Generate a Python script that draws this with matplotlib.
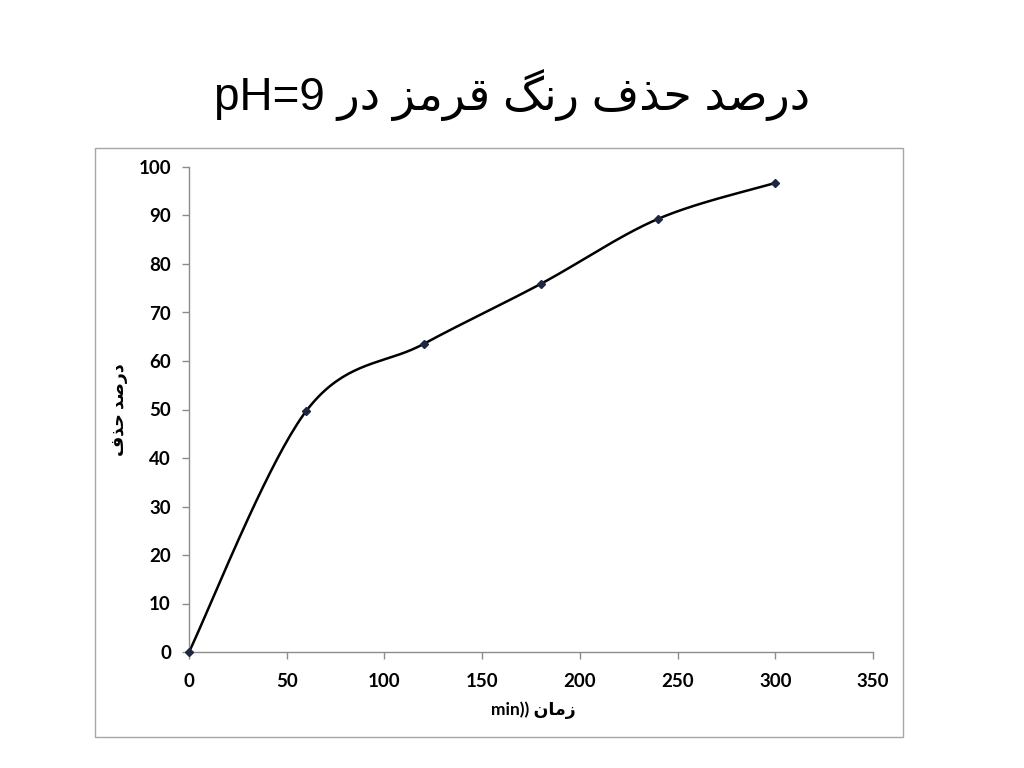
import numpy as np
import matplotlib
matplotlib.use("Agg")
import matplotlib.pyplot as plt
from matplotlib.patches import Rectangle

# Data
time_min = [0, 60, 120, 180, 240, 300]
removal_pct = [0, 49.7, 63.5, 75.9, 89.3, 96.7]
x_ticks = [0, 50, 100, 150, 200, 250, 300, 350]
y_ticks = [0, 10, 20, 30, 40, 50, 60, 70, 80, 90, 100]

# Persian text in shaped presentation forms, visual (left-to-right) order
title_text = "pH=9 \uFEAD\uFEA9 \uFEB0\uFEE3\uFEAE\uFED7 \uFB93\uFEE7\uFEAD \uFED1\uFEAC\uFEA3 \uFEAA\uFEBB\uFEAD\uFEA9"
ylabel_text = "\uFED1\uFEAC\uFEA3 \uFEAA\uFEBB\uFEAD\uFEA9"
xlabel_text = "min)) \uFEE5\uFE8E\uFEE3\uFEAF"


def smooth_curve(xs, ys, n=40):
    # Catmull-Rom style smoothing (like spreadsheet "smoothed line")
    xs = np.asarray(xs, float)
    ys = np.asarray(ys, float)
    P = np.column_stack([xs, ys])
    out = [P[0]]
    t = np.linspace(0, 1, n)[1:]
    for i in range(len(P) - 1):
        p0 = P[i - 1] if i > 0 else P[i]
        p1 = P[i]
        p2 = P[i + 1]
        p3 = P[i + 2] if i + 2 < len(P) else P[i + 1]
        c1 = p1 + (p2 - p0) / 6.0
        c2 = p2 - (p3 - p1) / 6.0
        for tt in t:
            b = ((1 - tt) ** 3) * p1 + 3 * ((1 - tt) ** 2) * tt * c1 + 3 * (1 - tt) * tt ** 2 * c2 + tt ** 3 * p2
            out.append(b)
    out = np.array(out)
    return out[:, 0], out[:, 1]


fig = plt.figure(figsize=(10.24, 7.68), dpi=100)
fig.patch.set_facecolor("white")

# outer chart frame
fig.patches.append(Rectangle((95 / 1024, 1 - 737 / 768), (903 - 95) / 1024, (737 - 148) / 768,
                             transform=fig.transFigure, fill=False, edgecolor="#a6a6a6", linewidth=1.0))

ax = fig.add_axes([189 / 1024, 1 - 652 / 768, (873 - 189) / 1024, (652 - 167) / 768])
sx, sy = smooth_curve(time_min, removal_pct)
ax.plot(sx, sy, color="black", linewidth=1.8, zorder=2, clip_on=False)
ax.plot(time_min, removal_pct, linestyle="none", marker="D", markersize=4.5,
        color="#1c2742", zorder=3, clip_on=False)

ax.set_xlim(0, 350)
ax.set_ylim(0, 100)
ax.set_xticks(x_ticks)
ax.set_yticks(y_ticks)
for s in ["top", "right"]:
    ax.spines[s].set_visible(False)
for s in ["left", "bottom"]:
    ax.spines[s].set_color("#8c8c8c")
    ax.spines[s].set_linewidth(1.0)
ax.tick_params(axis="both", direction="out", length=5, width=1, color="#8c8c8c",
               labelsize=13.5)
ax.tick_params(axis="x", pad=10)
ax.tick_params(axis="y", pad=8)
for lab in ax.get_xticklabels() + ax.get_yticklabels():
    lab.set_fontfamily(["Lato", "DejaVu Sans"])
    lab.set_fontweight("bold")

fig.text(512 / 1024, 1 - 95 / 768, title_text, ha="center", va="center",
         fontsize=33, family=["Liberation Sans", "DejaVu Sans"])
fig.text(533 / 1024, 1 - 710 / 768, xlabel_text, ha="center", va="center",
         fontsize=12.5, fontweight="bold", family=["Lato", "DejaVu Sans"])
fig.text(120 / 1024, 1 - 410 / 768, ylabel_text, ha="center", va="center",
         rotation=90, fontsize=12.5, fontweight="bold", family=["Lato", "DejaVu Sans"])

fig.savefig("out.png", dpi=100, facecolor="white")
